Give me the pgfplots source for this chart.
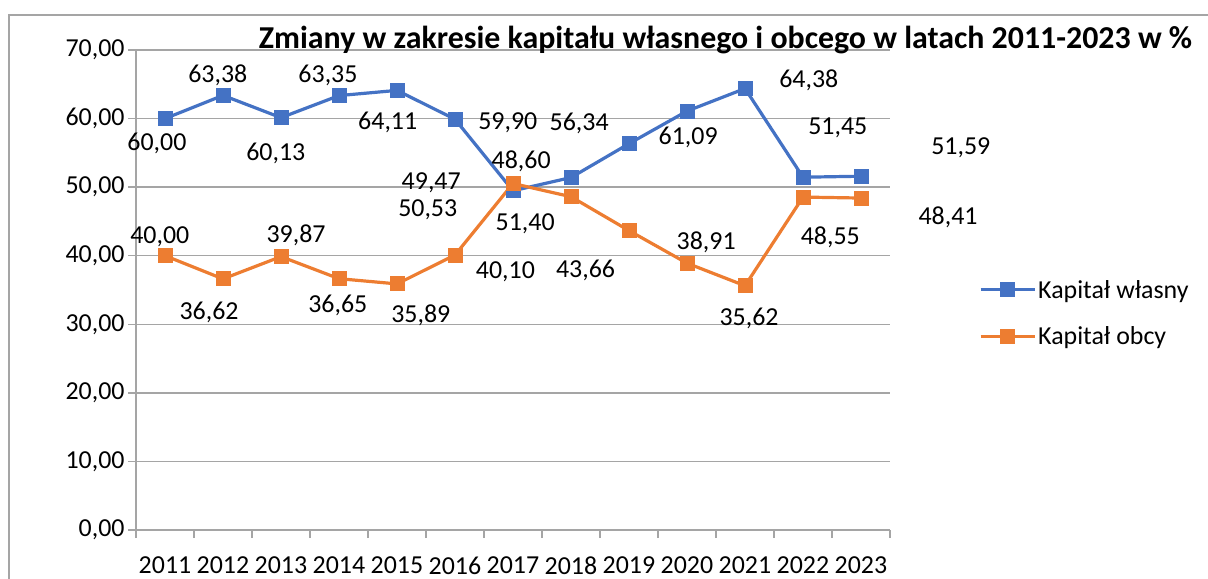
\documentclass[border=0pt]{standalone}
\usepackage{pgfplots}
\pgfplotsset{compat=1.18}
\usepackage{fontspec}
\setmainfont{Carlito}
\definecolor{cblue}{HTML}{4472C4}
\definecolor{corange}{HTML}{ED7D31}
\definecolor{cgrid}{HTML}{A5A5A5}
\newcommand\lf{\fontsize{26}{31}\selectfont}
\begin{document}
\begin{tikzpicture}
\useasboundingbox (0bp,0bp) rectangle (1208bp,579bp);
\draw[cgrid, line width=1.3bp] (9bp,0bp) -- (9bp,564bp) -- (1208bp,564bp);
\begin{axis}[
  at={(136bp,49bp)}, anchor=south west,
  width=754bp, height=480bp, scale only axis,
  clip=false,
  xmin=2010.5, xmax=2023.5, ymin=0, ymax=70,
  xtick={2011,2012,...,2023},
  xticklabels={2011,2012,2013,2014,2015,2016,2017,2018,2019,2020,2021,2022,2023},
  minor xtick={2010.5,2011.5,...,2023.5},
  ytick={0,10,...,70},
  yticklabels={{0,00},{10,00},{20,00},{30,00},{40,00},{50,00},{60,00},{70,00}},
  ticklabel style={font=\lf},
  xticklabel style={yshift=-15bp},
  axis x line*=bottom, axis y line*=left,
  axis line style={cgrid, line width=1.3bp, -},
  tick style={cgrid, line width=1.3bp},
  major x tick style={draw=none},
  tick align=outside,
  major tick length=8bp, minor tick length=8bp,
  ymajorgrids, grid style={cgrid, line width=1.3bp},
  legend style={draw=none, fill=none, inner sep=0pt, font=\lf,
    at={(axis description cs:1.1178,0.452)}, anchor=west,
    row sep=23bp, nodes={inner sep=2bp}},
  legend cell align=left,
  legend image code/.code={\draw[#1, mark repeat=2, mark phase=2] plot coordinates {(0bp,0bp) (27bp,0bp) (54bp,0bp)};},
]
\addplot[cblue, line width=3.2bp, mark=square*, mark size=7bp, mark options={line width=1bp}] coordinates {
(2011,60.00) (2012,63.38) (2013,60.13) (2014,63.35) (2015,64.11) (2016,59.90) (2017,49.47)
(2018,51.40) (2019,56.34) (2020,61.09) (2021,64.38) (2022,51.45) (2023,51.59)};
\addlegendentry{Kapitał własny}
\addplot[corange, line width=3.2bp, mark=square*, mark size=7bp, mark options={line width=1bp}] coordinates {
(2011,40.00) (2012,36.62) (2013,39.87) (2014,36.65) (2015,35.89) (2016,40.10) (2017,50.53)
(2018,48.60) (2019,43.66) (2020,38.91) (2021,35.62) (2022,48.55) (2023,48.41)};
\addlegendentry{Kapitał obcy}
% data labels (blue series)
\node[font=\lf] at (axis cs:2010.86,56.44) {60,00};
\node[font=\lf] at (axis cs:2011.91,66.36) {63,38};
\node[font=\lf] at (axis cs:2012.91,54.98) {60,13};
\node[font=\lf] at (axis cs:2013.81,66.36) {63,35};
\node[font=\lf] at (axis cs:2014.84,59.50) {64,11};
\node[font=\lf] at (axis cs:2016.91,59.36) {59,90};
\node[font=\lf] at (axis cs:2015.59,50.61) {49,47};
\node[font=\lf] at (axis cs:2017.21,44.63) {51,40};
\node[font=\lf] at (axis cs:2018.14,59.36) {56,34};
\node[font=\lf] at (axis cs:2020.02,57.31) {61,09};
\node[font=\lf] at (axis cs:2022.10,65.63) {64,38};
\node[font=\lf] at (axis cs:2022.60,58.63) {51,45};
\node[font=\lf] at (axis cs:2024.72,55.71) {51,59};
% data labels (orange series)
\node[font=\lf] at (axis cs:2010.91,42.77) {40,00};
\node[font=\lf] at (axis cs:2011.76,31.69) {36,62};
\node[font=\lf] at (axis cs:2013.26,43.02) {39,87};
\node[font=\lf] at (axis cs:2013.98,32.81) {36,65};
\node[font=\lf] at (axis cs:2015.41,31.35) {35,89};
\node[font=\lf] at (axis cs:2016.87,37.67) {40,10};
\node[font=\lf] at (axis cs:2015.53,46.67) {50,53};
\node[font=\lf] at (axis cs:2017.14,53.81) {48,60};
\node[font=\lf] at (axis cs:2018.25,37.92) {43,66};
\node[font=\lf] at (axis cs:2020.33,41.90) {38,91};
\node[font=\lf] at (axis cs:2021.07,30.92) {35,62};
\node[font=\lf] at (axis cs:2022.47,42.73) {48,55};
\node[font=\lf] at (axis cs:2024.50,45.65) {48,41};
\end{axis}
\node[font=\bfseries\fontsize{32}{38}\selectfont, anchor=base] at (725.5bp,530.7bp) {Zmiany w zakresie kapitału własnego i obcego w latach 2011-2023 w \%};
\end{tikzpicture}
\end{document}
